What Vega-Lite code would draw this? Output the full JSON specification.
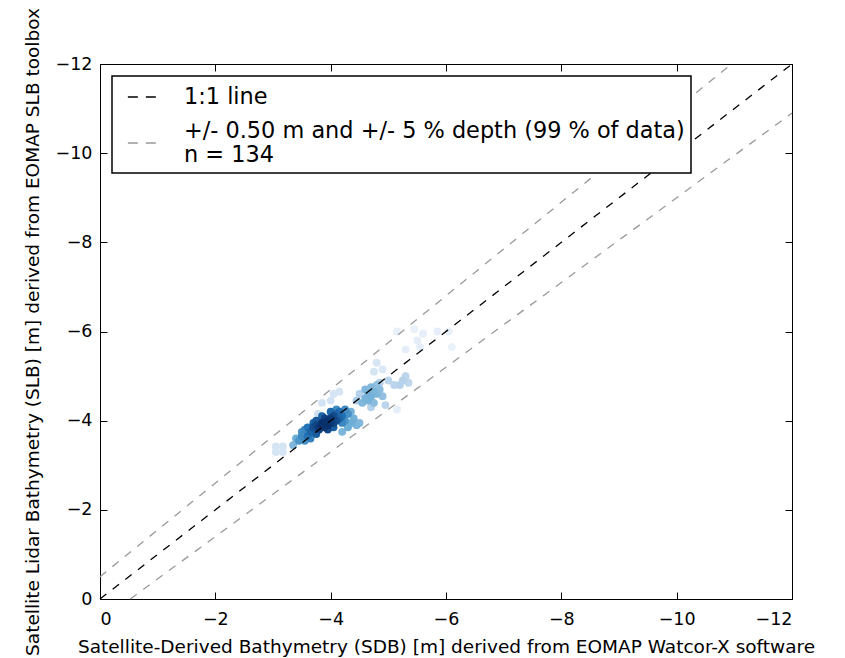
{
  "$schema": "https://vega.github.io/schema/vega-lite/v6.json",
  "width": 692,
  "height": 535,
  "autosize": {"type": "none"},
  "padding": {"left": 100, "top": 64, "right": 53, "bottom": 59},
  "background": "white",
  "config": {
    "font": "DejaVu Sans",
    "view": {"stroke": "black", "strokeWidth": 1},
    "legend": {"strokeWidth": 1.5},
    "axis": {
      "grid": false,
      "domainColor": "black",
      "tickColor": "black",
      "labelColor": "black",
      "titleColor": "black",
      "labelFont": "DejaVu Sans",
      "titleFont": "DejaVu Sans",
      "labelFontSize": 17.5,
      "titleFontSize": 18.5,
      "titleFontWeight": "normal",
      "tickSize": -7,
      "tickWidth": 1
    }
  },
  "datasets": {
    "lines": [
      {"x": 0, "y": 0, "name": "1:1 line", "seg": "a"},
      {"x": -12, "y": -12, "name": "1:1 line", "seg": "a"},
      {"x": 0, "y": -0.5, "name": "band", "seg": "b"},
      {"x": -10.952, "y": -12, "name": "band", "seg": "b"},
      {"x": -0.526, "y": 0, "name": "band", "seg": "c"},
      {"x": -12, "y": -10.9, "name": "band", "seg": "c"}
    ],
    "pts": [
      {"x": -3.8, "y": -3.85, "d": 0.97}, {"x": -3.85, "y": -3.9, "d": 1.0}, {"x": -3.9, "y": -3.95, "d": 1.0},
      {"x": -3.95, "y": -4.0, "d": 0.98}, {"x": -4.0, "y": -4.05, "d": 0.95}, {"x": -3.9, "y": -3.85, "d": 0.97},
      {"x": -3.95, "y": -3.9, "d": 0.99}, {"x": -4.0, "y": -3.95, "d": 0.96}, {"x": -3.85, "y": -3.95, "d": 0.98},
      {"x": -3.8, "y": -3.8, "d": 0.93}, {"x": -4.05, "y": -4.1, "d": 0.9}, {"x": -3.75, "y": -3.9, "d": 0.92},
      {"x": -3.9, "y": -4.05, "d": 0.93}, {"x": -4.05, "y": -3.95, "d": 0.92}, {"x": -3.7, "y": -3.85, "d": 0.88},
      {"x": -3.95, "y": -3.8, "d": 0.9}, {"x": -4.1, "y": -4.0, "d": 0.88},
      {"x": -3.65, "y": -3.75, "d": 0.8}, {"x": -3.7, "y": -3.95, "d": 0.8}, {"x": -3.75, "y": -3.7, "d": 0.82},
      {"x": -4.1, "y": -4.15, "d": 0.8}, {"x": -4.15, "y": -4.2, "d": 0.76}, {"x": -4.2, "y": -4.1, "d": 0.75},
      {"x": -4.0, "y": -4.2, "d": 0.78}, {"x": -3.6, "y": -3.85, "d": 0.74}, {"x": -3.85, "y": -4.1, "d": 0.8},
      {"x": -4.15, "y": -4.05, "d": 0.8}, {"x": -3.75, "y": -4.0, "d": 0.84}, {"x": -3.6, "y": -3.65, "d": 0.74},
      {"x": -4.05, "y": -3.85, "d": 0.82},
      {"x": -3.5, "y": -3.65, "d": 0.65}, {"x": -3.55, "y": -3.8, "d": 0.66}, {"x": -3.45, "y": -3.55, "d": 0.6},
      {"x": -3.65, "y": -3.6, "d": 0.68}, {"x": -4.25, "y": -4.25, "d": 0.65}, {"x": -4.3, "y": -4.15, "d": 0.62},
      {"x": -3.55, "y": -3.55, "d": 0.62}, {"x": -4.2, "y": -3.95, "d": 0.66}, {"x": -4.25, "y": -4.0, "d": 0.6},
      {"x": -3.5, "y": -3.75, "d": 0.62}, {"x": -4.1, "y": -4.25, "d": 0.64},
      {"x": -4.35, "y": -3.95, "d": 0.5}, {"x": -4.4, "y": -4.05, "d": 0.48}, {"x": -4.45, "y": -3.9, "d": 0.46},
      {"x": -4.3, "y": -3.85, "d": 0.5}, {"x": -4.5, "y": -3.95, "d": 0.44}, {"x": -3.4, "y": -3.6, "d": 0.5},
      {"x": -3.35, "y": -3.45, "d": 0.45}, {"x": -4.2, "y": -3.75, "d": 0.46}, {"x": -4.35, "y": -4.2, "d": 0.48},
      {"x": -4.6, "y": -4.5, "d": 0.47}, {"x": -4.65, "y": -4.6, "d": 0.48}, {"x": -4.7, "y": -4.55, "d": 0.48},
      {"x": -4.75, "y": -4.65, "d": 0.46}, {"x": -4.6, "y": -4.7, "d": 0.44}, {"x": -4.7, "y": -4.75, "d": 0.44},
      {"x": -4.8, "y": -4.6, "d": 0.45}, {"x": -4.55, "y": -4.4, "d": 0.45}, {"x": -4.8, "y": -4.8, "d": 0.4},
      {"x": -4.65, "y": -4.45, "d": 0.47}, {"x": -4.85, "y": -4.7, "d": 0.42}, {"x": -4.75, "y": -4.4, "d": 0.42},
      {"x": -4.9, "y": -4.55, "d": 0.4},
      {"x": -4.5, "y": -4.6, "d": 0.3}, {"x": -4.45, "y": -4.45, "d": 0.34}, {"x": -4.95, "y": -4.35, "d": 0.28},
      {"x": -4.85, "y": -4.85, "d": 0.3}, {"x": -5.0, "y": -4.9, "d": 0.28}, {"x": -5.25, "y": -4.9, "d": 0.3},
      {"x": -5.3, "y": -5.0, "d": 0.28}, {"x": -5.2, "y": -4.8, "d": 0.3}, {"x": -5.35, "y": -4.85, "d": 0.27},
      {"x": -5.1, "y": -4.8, "d": 0.28}, {"x": -4.7, "y": -4.3, "d": 0.3},
      {"x": -3.05, "y": -3.42, "d": 0.15}, {"x": -3.17, "y": -3.42, "d": 0.15}, {"x": -3.05, "y": -3.3, "d": 0.15},
      {"x": -3.17, "y": -3.3, "d": 0.15}, {"x": -4.0, "y": -4.45, "d": 0.17}, {"x": -4.15, "y": -4.65, "d": 0.15},
      {"x": -4.05, "y": -4.6, "d": 0.15}, {"x": -3.85, "y": -4.4, "d": 0.17}, {"x": -3.78, "y": -4.15, "d": 0.2},
      {"x": -4.8, "y": -5.3, "d": 0.14}, {"x": -4.75, "y": -5.1, "d": 0.15}, {"x": -4.9, "y": -5.15, "d": 0.13},
      {"x": -5.15, "y": -4.25, "d": 0.05},
      {"x": -5.15, "y": -6.0, "d": 0.04}, {"x": -5.6, "y": -5.95, "d": 0.05}, {"x": -5.85, "y": -6.0, "d": 0.05},
      {"x": -5.5, "y": -5.8, "d": 0.06}, {"x": -5.55, "y": -5.65, "d": 0.06}, {"x": -6.1, "y": -5.65, "d": 0.03},
      {"x": -6.05, "y": -6.0, "d": 0.04}, {"x": -5.3, "y": -5.6, "d": 0.05}, {"x": -5.45, "y": -6.05, "d": 0.04}
    ]
  },
  "layer": [
    {
      "data": {"name": "pts"},
      "mark": {"type": "circle", "size": 62, "opacity": 1},
      "encoding": {
        "x": {"field": "x", "type": "quantitative", "scale": {"domain": [0, -12], "nice": false},
          "axis": {"orient": "bottom", "values": [0, -2, -4, -6, -8, -10, -12], "labelPadding": 18, "title": "Satellite-Derived Bathymetry (SDB) [m] derived from EOMAP Watcor-X software", "titlePadding": 10}},
        "y": {"field": "y", "type": "quantitative", "scale": {"domain": [0, -12], "nice": false},
          "axis": {"orient": "left", "values": [0, -2, -4, -6, -8, -10, -12], "labelPadding": 15, "title": "Satellite Lidar Bathymetry (SLB) [m] derived from EOMAP SLB toolbox", "titlePadding": 13}},
        "color": {"field": "d", "type": "quantitative", "scale": {"domain": [0, 1], "range": ["#eef4fb", "#c6dbef", "#6baed6", "#2171b5", "#08306b"]}, "legend": null},
        "order": {"field": "d", "type": "quantitative"}
      }
    },
    {
      "data": {"name": "lines"},
      "mark": {"type": "line", "strokeWidth": 1.3},
      "encoding": {
        "x": {"field": "x", "type": "quantitative", "scale": {"domain": [0, -12], "nice": false},
          "axis": {"orient": "top", "values": [0, -2, -4, -6, -8, -10, -12], "labels": false, "title": null}},
        "y": {"field": "y", "type": "quantitative", "scale": {"domain": [0, -12], "nice": false},
          "axis": {"orient": "right", "values": [0, -2, -4, -6, -8, -10, -12], "labels": false, "title": null}},
        "detail": {"field": "seg"},
        "color": {"field": "name", "type": "nominal",
          "scale": {"domain": ["1:1 line", "band"], "range": ["black", "#999999"]},
          "legend": {"orient": "none", "legendX": 12, "legendY": 12, "title": null,
            "labelExpr": "datum.label == 'band' ? ['+/- 0.50 m and +/- 5 % depth (99 % of data)', 'n = 134'] : datum.label",
            "labelFont": "DejaVu Sans", "labelFontSize": 22.4, "labelColor": "black", "labelLimit": 0,
            "strokeColor": "black", "fillColor": "white", "padding": 6, "cornerRadius": 0,
            "symbolType": "stroke", "symbolSize": 800, "symbolStrokeWidth": 1.3, "symbolDash": [10, 8],
            "symbolOffset": 9, "labelOffset": 27, "rowPadding": 11,
            "encode": {"labels": {"update": {"dy": {"signal": "datum.value === 'band' ? -12 : 0"}}}}}},
        "strokeDash": {"field": "name", "type": "nominal",
          "scale": {"domain": ["1:1 line", "band"], "range": [[8, 8], [8, 8]]}, "legend": null}
      }
    }
  ],
  "resolve": {"scale": {"color": "independent"}, "axis": {"x": "independent", "y": "independent"}}
}
